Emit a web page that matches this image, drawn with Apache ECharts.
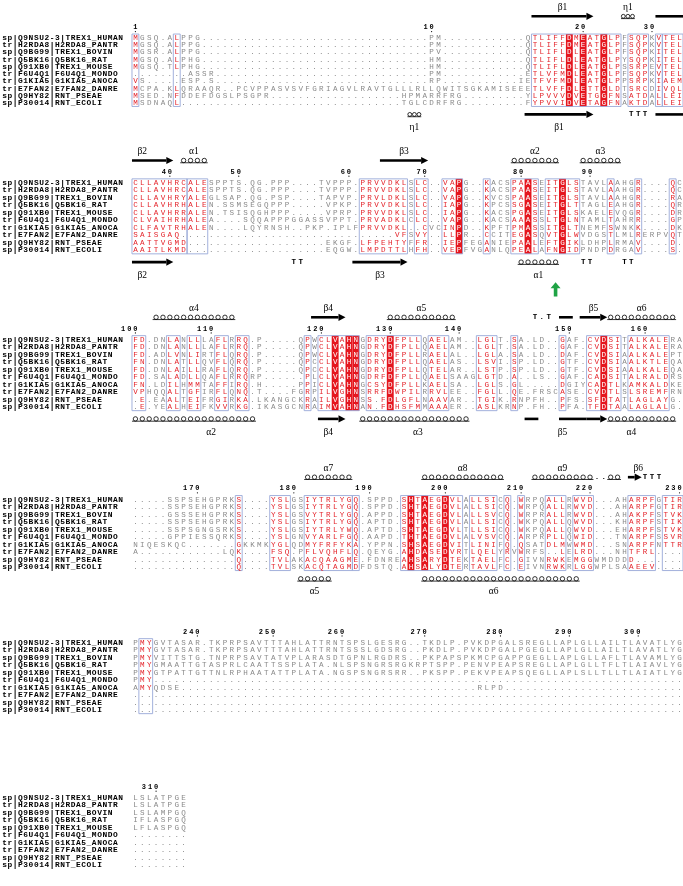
<!DOCTYPE html>
<html><head><meta charset="utf-8">
<script src="https://cdn.jsdelivr.net/npm/echarts@6/dist/echarts.min.js"></script>
<style>html,body{margin:0;padding:0;background:#fff;}#chart{width:683px;height:886px;}</style>
</head><body><div id="chart"></div>
<script>
const D = n => '.'.repeat(n);
const seqNames = ['sp|Q9NSU2-3|TREX1_HUMAN','tr|H2RDA8|H2RDA8_PANTR','sp|Q9BG99|TREX1_BOVIN','tr|Q5BK16|Q5BK16_RAT','sp|Q91XB0|TREX1_MOUSE','tr|F6U4Q1|F6U4Q1_MONDO','tr|G1KIA5|G1KIA5_ANOCA','tr|E7FAN2|E7FAN2_DANRE','sp|Q9HY82|RNT_PSEAE','sp|P30014|RNT_ECOLI'];

const block1 = [
 'MGSQ.ALPPG'+D(33)+'PM'+D(12)+'QTLIFFDMEATGLPFSQPKVTEL',
 'MGSQ.ALPPG'+D(33)+'PM'+D(12)+'QTLIFFDMEATGLPFSQPKVTEL',
 'MGSR.ALPPG'+D(33)+'PV'+D(12)+'QTLIFLDLEATGLPFSQPKITEL',
 'MGSQ.ALPHG'+D(33)+'HM'+D(12)+'QTLIFLDLEATGLPYSQPKITEL',
 'MGSQ.TLPHG'+D(33)+'HM'+D(12)+'QTLIFLDLEATGLPSSRPEVTEL',
 D(8)+'ASSR'+D(31)+'PM'+D(12)+'ETLVFMDLEATGLPFSQPKVTEL',
 'VS.....ESP.S'+D(31)+'RP'+D(11)+'IETFVFMDLEATGLPPSRPKIAEM',
 'MCPA.KLQRAAQR..PCVPPASVSVFGRIAGVLRAVTGLLLRLLQWITSGKAMISEEETLVFFDLETTGLDTSRCDIVQL',
 'MSED.NFDDEFDGSLPSGPR'+D(19)+'HPMARRFRG'+D(9)+'YLPVVVDVETGGFNSATDALLEI',
 'MSDNAQL'+D(32)+'TGLCDRFRG'+D(9)+'FYPVVIDVETAGFNAKTDALLEI'
];
const block2 = [
 'CLLAVHRCALESPPTS.QG.PPP....TVPP'+'P.PRVVDKLSLC..VAPG..KACSPAASEITGLSTAVLAAHGR....QC',
 'CLLAVHRCALESPPTS.QG.PPP....TVPP'+'P.PRVVDKLSLC..VAPG..KACSPAASEITGLSTAVLAAHGR....QC',
 'CLLAVHRYALEGLSAP.QG.PSP....TAPV'+'P.PRVLDKLSLC..VAPG..KVCSPAASEITGLSTAVLAAHGR....RA',
 'CLLAVHRHALEN.SSMSEGQPPP.....VPK'+'P.PRVVDKLSLC..IAPG..KPCSSGASEITGLTTAGLEAHGR....QR',
 'CLLAVHRRALEN.TSISQGHPPP.....VPR'+'P.PRVVDKLSLC..IAPG..KACSPGASEITGLSKAELEVQGR....DR',
 'CLVAIHRHALEA....SQQAPPPGGASSVPP'+'T.PRVADKLCLC..VAPG..KACSAAASSLTGLNTAMLTAHRR....GP',
 'CLFAVTRHALEN....LQYRNSH..PKP.IP'+'LFPRVVDKL..CVCINPD..KPFTPMASSITGLTNEMFSWNKK....DK',
 'SAISGAQ'+D(31)+'VFSVY..LLPR..CCITEGASQVTGLWVDGSTLMLRERPVQT',
 'AATTVGMD'+D(20)+'EKG'+'F.LFPEHTYFFR..IEPFEGANIEPAALEFTGIKLDHPLRMAV....D.',
 'AAITLKMD'+D(20)+'EQG'+'W.LMPDTTLHFH..VEPFVGANLQPEALAFNGIDPNDPDRGAV....S.'
];
const block3 = [
 'FD.DNLANLLLAFLRRQ.P.....QPWCLVA'+'HNGDRYDFPLLQAELAM..LGLT.SA.LD..GAF.CVDSITALKALERA',
 'FD.DNLANLLLAFLRRQ.P.....QPWCLVA'+'HNGDRYDFPLLQAELAM..LGLT.SA.LD..GAF.CVDSITALKALERA',
 'FD.ADLVNLIRTFLQRQ.P.....QPWCLVA'+'HNGDRYDFPLLRAELAL..LGLA.SA.LD..DAF.CVDSIAALKALEPT',
 'FN.DNLATLLQVFLQRQ.P.....QPCCLVA'+'HNGDRYDFPLLQAELAS..LSVI.SP.LD..GTF.CVDSIAALKTLEQA',
 'FD.DNLAILLRAFLQRQ.P.....QPCCLVA'+'HNGDRYDFPLLQTELAR..LSTP.SP.LD..GTF.CVDSIAALKALEQA',
 'FD.SALADLLQAFLRRQRP......PLCLVA'+'HNGDRFDFPLLQAELSAAGLGTD.A..LS..GAF.CADSITALRALDRS',
 'FN.LDILHMMTAFFIRQ.H.....PPICLVA'+'HNGCSYDFPLLKAELSA..LGLS.GL.....DGIYCADTLKAMKALDKE',
 'VPHQQALTGFIRFLQNQ.T....FGRPILVG'+'HNSRRFDWPILRRVLEE..FGLL.QE.FRSCASE.CVDTLSLSREMFRN',
 '.E.EAALTEIFRGIRKA.LKANGCKRAILVG'+'HNSS.FDLGFLNAAVAR..TGIK.RNPFH..PFS.SFDTATLAGLAYG.',
 '.E.YEALHEIFKVVRKG.IKASGCNRAIMVA'+'HNAN.FDHSFMMAAAER..ASLKRNP.FH..PFA.TFDTAALAGLALG.'
];
const block4 = [
 '.....SSPSEHGPRKS....YSLGSIYTRLY'+'GQ.SPPD.SHTAEGDVLALLSICQ.WRPQALLRWVD...AHARPFGTIR',
 '.....SSPSEHGPRKS....YSLGSIYTRLY'+'GQ.SPPD.SHTAEGDVLALLSICQ.WRPQALLRWVD...AHARPFGTIR',
 '.....GSSSEHGPRKS....YSLGSVYTRLY'+'GQ.APPD.SHTAEGDVLALLSVCQ.WRPRALLRWVD...AHAKPFSTVK',
 '.....SSPSEHGPRKS....YSLGSIYTRLY'+'GQ.APTD.SHTAEGDVLALLSICQ.WKPQALLQWVD...KHARPFSTIK',
 '.....SSPSGNGSRKS....YSLGSIYTRLY'+'WQ.APTD.SHTAEGDVLTLLSICQ.WKPQALLQWVD...EHARPFSTVK',
 '.....GPPIESSQRKS....YSLGNVYARLF'+'GQ.AAPD.THTAEGDVLALVSVCQ.ARPRPLLQWID...TNARPFSSVR',
 'NIQESKQC.......GKKMKYGLQDMYFRFY'+'KA.YPPN.SHSAEGDVITLINIFQ.QSATDLMWWMD...SNARPFNTTR',
 'A'+D(12)+'LQK....FSQ.PFLVQHF'+'LQ.QEYG.AHDASEDVRTLQELYRVWRFS..LELRD...NHTFRL'+D(4),
 D(15)+'Q....TVLAKACQAAG'+'ME.FDNREAHSARYDTEKTAELFC.GIVNRWKEMGGWMDDDD'+D(7),
 D(15)+'Q....TVLSKACQTAG'+'MDFDSTQ.AHSALYDTERTAVLFC.EIVNRWKRLGGWPLSAAEEV'+D(4)
];
const block5 = [
 'PMYGVTASAR.TKPRPSAVTTTAHLATTRNT'+'SPSLGESRG..TKDLP.PVKDPGALSREGLLAPLGLLAILTLAVATLYG',
 'PMYGVTASAR.TKPRPSAVTTTAHLATTRNT'+'SSSLGDSRG..PKDLP.PVKDPGALPGEGLLAPLGLLAILTLAVATLYG',
 'PMYVITTSTG.TNPRPSAVTATVPLARASDT'+'GPNLRGDRS..PKPAPSPKMCPGAPPGEGLLAPLGLLAFLTLAVAMLYG',
 'PMYGMAATTGTASPRLCAATTSSPLATA.NL'+'SPSNGRSRGKRPTSPP.PENVPEAPSREGLLAPLGLLTFLTLAIAVLYG',
 'PMYGTPATTGTTNLRPHAATATTPLATA.NG'+'SPSNGRSRR..PKSPP.PEKVPEAPSQEGLLAPLSLLTLLTLAIATLYG',
 'PMY'+D(77),
 'AMYQDSE'+D(43)+'RLPD'+D(26),
 D(80), D(80), D(80)
];
const block6 = ['LSLATPGE','LSLATPGE','LSLAMPGQ','IFLASPGQ','LFLASPGQ','........','........','........','........','........'];

// framed (similar) column ranges and strictly conserved (red) columns per block
const boxes1 = [[1,1],[7,7],[59,71],[73,75],[77,77],[78,80]];
const red1 = [64,66,69];
const boxes2 = [[1,8],[9,11],[34,40],[42,43],[46,48],[52,52],[56,59],[61,65],[70,70],[74,74],[79,79]];
const red2 = [48,58,63];
const boxes3 = [[1,2],[6,7],[9,10],[13,14],[16,17],[26,26],[28,33],[35,42],[44,46],[51,53],[56,56],[63,63],[67,71],[73,78]];
const red3 = [30,32,33,38,69];
const boxes4 = [[16,16],[21,23],[26,32],[33,33],[40,48],[50,53],[55,55],[57,57],[61,63],[65,67],[73,76],[78,80]];
const red4 = [41,43,46];
const boxes5 = [[2,3]];
const red5 = [];
const boxes6 = [];
const red6 = [];

// secondary structure: [kind, firstCol, lastCol, label, labelCol, coils]
const ssTop1 = [['arrow',59,67,'β1'],['helix',72,73,'η1',null,3],['bar',77,80,'']];
const ssBot1 = [['helix',41,42,'η1',null,3],['arrow',58,67,'β1'],['turn',73,75,'TTT'],['bar',77,80,'']];
const ssTop2 = [['arrow',1,6,'β2',2],['helix',8,11,'α1'],['arrow',37,43,'β3'],['helix',56,62,'α2'],['helix',66,71,'α3']];
const ssBot2 = [['arrow',1,6,'β2',2],['turn',24,25,'TT'],['arrow',33,40,'β3'],['helix',57,62,'α1'],['turn',66,67,'TT'],['turn',72,73,'TT']];
const ssTop3 = [['helix',4,15,'α4'],['arrow',27,31,'β4'],['helix',38,47,'α5'],['turn',59,61,'T.T'],['bar',63,64,''],['arrow',66,69,'β5'],['helix',70,79,'α6']];
const ssBot3 = [['helix',1,18,'α2',12],['arrow',28,31,'β4',29],['helix',34,49,'α3',42],['bar',58,59,''],['bar',63,66,'β5',63],['arrow',67,69,''],['helix',70,79,'α4',73]];
const ssTop4 = [['helix',26,32,'α7'],['helix',43,54,'α8'],['helix',59,67,'α9'],['turn',68,69,'..'],['helix',70,71,''],['arrow',73,74,'β6',74],['turn',75,77,'TTT']];
const ssBot4 = [['helix',25,29,'α5'],['helix',43,65,'α6',53]];
const markCol2 = [[62]]; // green arrow column, block 2

const blocks = [block1,block2,block3,block4,block5,block6];
const boxesAll = [boxes1,boxes2,boxes3,boxes4,boxes5,boxes6];
const redAll = [red1,red2,red3,red4,red5,red6];
const ssTopAll = [ssTop1,ssTop2,ssTop3,ssTop4,[],[]];
const ssBotAll = [ssBot1,ssBot2,ssBot3,ssBot4,[],[]];

blocks.forEach((bl,b)=>bl.forEach((s,r)=>{ if(b<5 && s.length!==80) throw new Error('block '+(b+1)+' row '+(r+1)+' len '+s.length); }));

// ---- layout / style ----
const COLW = 6.89, ROWH = 7.5, XMIN = -18.37, XMAX = 80.5, YMIN = -4.2;
const YMAXS = [14, 16.5, 14, 14, 11, 10.8];
const ROW1_Y = [34.3, 182.6, 339.4, 499.3, 642.4, 797.6];
const NAME_CW = 5.27;
const COL = {gray:'#8a8a8a', red:'#e4252c', fill:'#e5161e', box:'#98a8d8', black:'#000'};
const FSEQ = '7.6px "Liberation Mono", monospace';
const FNAME = 'bold 7.9px "Liberation Mono", monospace';
const FNUM = 'bold 7px "Liberation Mono", monospace';
const FSS = '9.5px "Liberation Serif", serif';

const option = {animation:false, backgroundColor:'#fff', grid:[], xAxis:[], yAxis:[], series:[]};
function txt(x,y,text,font,fill,align){return {type:'text',x,y,style:{text,font,fill,align:align||'center',verticalAlign:'middle',textAlign:align||'center',textVerticalAlign:'middle'}};}

let resCount = 0;
blocks.forEach((bl,b)=>{
  const YMAX = YMAXS[b];
  option.grid.push({left:2, width:(XMAX-XMIN)*COLW, top:ROW1_Y[b]-(1-YMIN)*ROWH, height:(YMAX-YMIN)*ROWH});
  option.xAxis.push({type:'value', gridIndex:b, min:XMIN, max:XMAX, show:false});
  option.yAxis.push({type:'value', gridIndex:b, min:YMIN, max:YMAX, inverse:true, show:false});
  const red = redAll[b], boxes = boxesAll[b];
  const inBox = c => boxes.some(x=>c>=x[0]&&c<=x[1]);
  // red fills
  option.series.push({type:'custom', xAxisIndex:b, yAxisIndex:b, silent:true, z:1,
    data: red.map(c=>[c,1]),
    renderItem:(p,api)=>{const c=api.value(0);const a=api.coord([c-0.5,0.5]),z=api.coord([c+0.5,10.5]);
      return {type:'rect',shape:{x:a[0],y:a[1],width:z[0]-a[0],height:z[1]-a[1]},style:{fill:COL.fill}};}});
  // frames
  option.series.push({type:'custom', xAxisIndex:b, yAxisIndex:b, silent:true, z:2,
    data: boxes.map(x=>[x[0],x[1]]),
    renderItem:(p,api)=>{const a=api.coord([api.value(0)-0.5,0.5]),z=api.coord([api.value(1)+0.5,10.5]);
      return {type:'rect',shape:{x:a[0],y:a[1],width:z[0]-a[0],height:z[1]-a[1]},style:{fill:'none',stroke:COL.box,lineWidth:0.9}};}});
  // residues
  const items=[];
  bl.forEach((s,r)=>{for(let i=0;i<s.length;i++){const c=i+1,ch=s[i];
    let color=COL.gray; if(red.includes(c)) color='#fff'; else if(ch!=='.'&&inBox(c)) color=COL.red;
    items.push({c,r:r+1,ch,color});}});
  option.series.push({type:'custom', xAxisIndex:b, yAxisIndex:b, silent:true, z:3,
    data: items.map(it=>[it.c,it.r]),
    renderItem:(p,api)=>{const it=items[p.dataIndex];const q=api.coord([api.value(0),api.value(1)]);
      return txt(q[0],q[1]+0.3,it.ch,FSEQ,it.color);}});
  // names (fixed character pitch)
  option.series.push({type:'custom', xAxisIndex:b, yAxisIndex:b, silent:true, z:3,
    data: seqNames.map((n,i)=>[XMIN,i+1]),
    renderItem:(p,api)=>{const q=api.coord([api.value(0),api.value(1)]);const s=seqNames[p.dataIndex];const ch=[];
      for(let k=0;k<s.length;k++) ch.push(txt(q[0]+NAME_CW*(k+0.5),q[1]+0.3,s[k],FNAME,'#000'));
      return {type:'group',children:ch};}});
  // residue numbers of first sequence
  const nums=[];
  for(let i=0;i<bl[0].length;i++){ if(bl[0][i]!=='.'){resCount++; if(resCount===1||resCount%10===0) nums.push([i+1,resCount]);} }
  option.series.push({type:'custom', xAxisIndex:b, yAxisIndex:b, silent:true, z:3,
    data: nums,
    renderItem:(p,api)=>{const s=String(api.value(1));const q=api.coord([api.value(0),-0.42]);const ch=[];
      for(let k=0;k<s.length;k++) ch.push(txt(q[0]+(k-(s.length-1))*6.1,q[1],s[k],FNUM,'#000'));
      ch.push({type:'circle',shape:{cx:q[0],cy:q[1]+4.2,r:0.6},style:{fill:'#000'}});
      return {type:'group',children:ch};}});
  // secondary structure
  [['top',ssTopAll[b]],['bot',ssBotAll[b]]].forEach(([side,list])=>{
    if(!list.length) return;
    const yG = side==='top'? -1.95 : 11.6, yL = side==='top'? -3.15 : 13.35;
    option.series.push({type:'custom', xAxisIndex:b, yAxisIndex:b, silent:true, z:4,
      data: list.map(e=>[e[1],e[2]]),
      renderItem:(p,api)=>{
        const e=list[p.dataIndex], kind=e[0], c1=e[1], c2=e[2], label=e[3];
        const lc = e[4]!=null? e[4] : (c1+c2)/2;
        const a=api.coord([c1-0.5,yG]), z=api.coord([c2+0.5,yG]), y=a[1], ch=[];
        if(kind==='arrow'||kind==='bar'){
          const head = kind==='arrow'?7:0;
          ch.push({type:'rect',shape:{x:a[0],y:y-1.3,width:Math.max(0,z[0]-a[0]-head),height:2.6},style:{fill:'#000'}});
          if(head) ch.push({type:'polygon',shape:{points:[[z[0]-head,y-3.6],[z[0],y],[z[0]-head,y+3.6]]},style:{fill:'#000'}});
        } else if(kind==='helix'){
          const n=e[5]||(c2-c1+1), cw=(z[0]-a[0])/n, r=Math.min(cw*0.42,2.2);
          ch.push({type:'line',shape:{x1:a[0],y1:y+2.3,x2:z[0],y2:y+2.3},style:{stroke:'#000',lineWidth:0.8}});
          for(let i=0;i<n;i++) ch.push({type:'circle',shape:{cx:a[0]+cw*(i+0.5),cy:y,r},style:{fill:'none',stroke:'#000',lineWidth:0.8}});
        } else if(kind==='turn'){
          for(let i=0;i<label.length;i++){const q=api.coord([c1+i,yG]); ch.push(txt(q[0],q[1],label[i],'bold 7.5px "Liberation Mono", monospace','#000'));}
        }
        if(label && kind!=='turn'){const q=api.coord([lc,yL]); ch.push(txt(q[0],q[1],label,FSS,'#000'));}
        return {type:'group',children:ch};
      }});
  });
  if(b===1){
    option.series.push({type:'custom', xAxisIndex:b, yAxisIndex:b, silent:true, z:5,
      data: markCol2.map(m=>[m[0],15]),
      renderItem:(p,api)=>{const q=api.coord([api.value(0),14.3]), t=api.coord([api.value(0),16.2]);
        return {type:'polygon',shape:{points:[[q[0],q[1]],[q[0]+5,q[1]+6],[q[0]+1.8,q[1]+6],[q[0]+1.8,t[1]],[q[0]-1.8,t[1]],[q[0]-1.8,q[1]+6],[q[0]-5,q[1]+6]]},style:{fill:'#1fa345'}};}});
  }
});

const chart = echarts.init(document.getElementById('chart'), null, {renderer:'canvas'});
chart.setOption(option);
</script></body></html>
